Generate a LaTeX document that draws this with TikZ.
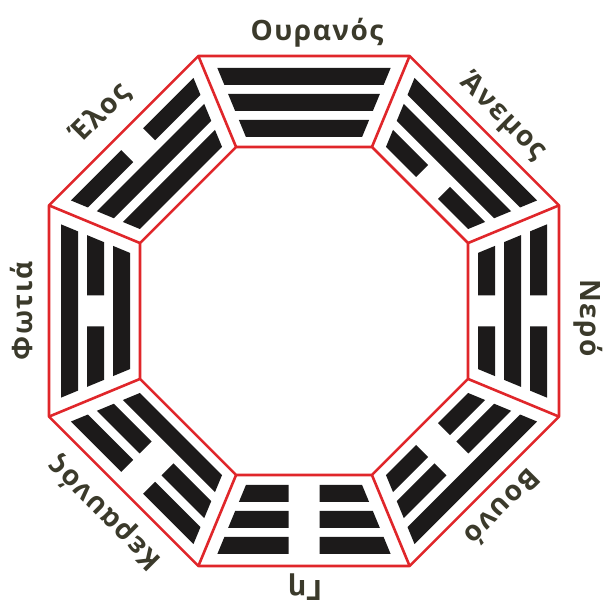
\documentclass[tikz,border=0pt]{standalone}
\usepackage{fontspec}
\setmainfont{Open Sans}[LetterSpace=5.5]
\definecolor{bred}{HTML}{E0262A}
\definecolor{btxt}{HTML}{3B3A2B}
\definecolor{bbar}{HTML}{1C1A1A}
\newcommand{\trigbar}[3]{%
  \ifnum#3=1
    \fill[bbar] ({-(#1*0.41421-14)},#1) -- ({#1*0.41421-14},#1) -- ({#2*0.41421-14},#2) -- ({-(#2*0.41421-14)},#2) -- cycle;
  \else
    \fill[bbar] ({-(#1*0.41421-14)},#1) -- (-15.5,#1) -- (-15.5,#2) -- ({-(#2*0.41421-14)},#2) -- cycle;
    \fill[bbar] ({#1*0.41421-14},#1) -- (15.5,#1) -- (15.5,#2) -- ({#2*0.41421-14},#2) -- cycle;
  \fi}
\tikzset{
  redline/.style={draw=bred, line width=2.6pt, line join=round},
  lbl/.style={text=btxt, font=\fontsize{28}{32}\selectfont\bfseries, inner sep=0pt, anchor=center}
}
\begin{document}
\begin{tikzpicture}[x=1pt,y=1pt]
\useasboundingbox (0,0) rectangle (603,602);
\fill[white] (0,0) rectangle (603,602);
\begin{scope}[shift={(304,291)}]
  \foreach \k/\a/\b/\c in {0/1/1/1,1/1/1/0,2/0/1/0,3/1/0/0,4/0/0/0,5/0/0/1,6/1/0/1,7/0/1/1} {
    \begin{scope}[rotate=-45*\k]
      \trigbar{226}{243}{\a}
      \trigbar{200}{217}{\b}
      \trigbar{174}{191}{\c}
    \end{scope}
  }
  \foreach \i in {0,...,7} {
    \coordinate (o\i) at (22.5+45*\i:276);
    \coordinate (n\i) at (22.5+45*\i:177.5);
  }
  \draw[redline] (o0) -- (o1) -- (o2) -- (o3) -- (o4) -- (o5) -- (o6) -- (o7) -- cycle;
  \draw[redline] (n0) -- (n1) -- (n2) -- (n3) -- (n4) -- (n5) -- (n6) -- (n7) -- cycle;
  \foreach \i in {0,...,7} { \draw[redline] (n\i) -- (o\i); }
  \foreach \k/\t/\x/\y in {0/Ουρανός/13/278,1/Άνεμος/199/194,2/Νερό/284/-7,3/Βουνό/199/-197,4/Γη/1/-276,5/Κεραυνός/-199/-202,6/Φωτιά/-283/0,7/Έλος/-203/198} {
    \node[lbl, rotate=-45*\k] (L\k) at (\x,\y) {\t};
  }
\end{scope}
\end{tikzpicture}
\end{document}
